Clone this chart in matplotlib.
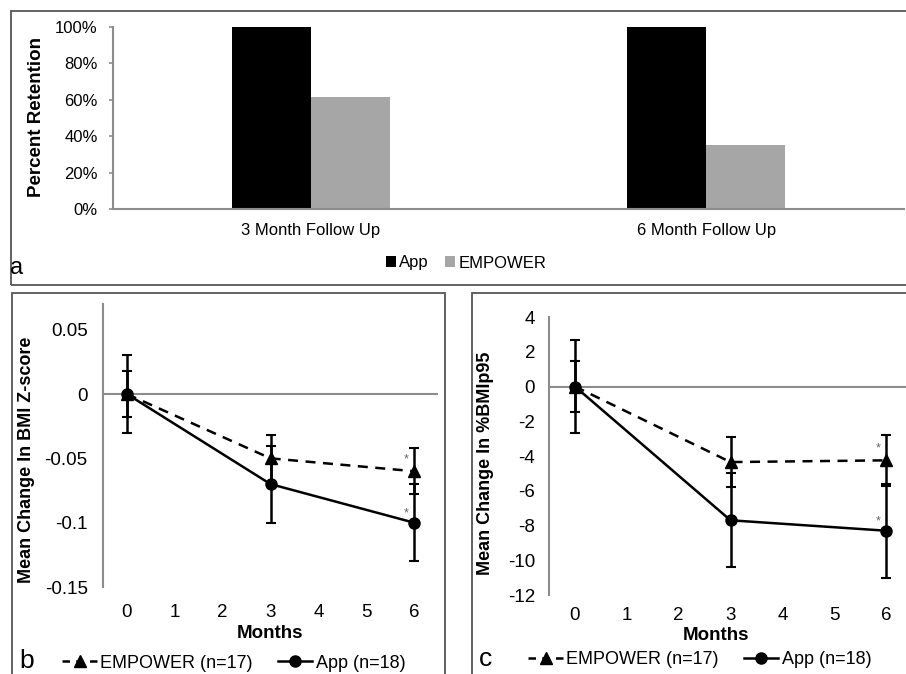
import matplotlib
matplotlib.use('Agg')
import matplotlib.pyplot as plt
from matplotlib.patches import Rectangle
from matplotlib.lines import Line2D
from matplotlib.ticker import PercentFormatter, FuncFormatter

plt.rcParams['font.family'] = ['Liberation Sans', 'DejaVu Sans']
plt.rcParams['axes.unicode_minus'] = False

W, H = 906, 674

# panel a: retention
follow_ups = ['3 Month Follow Up', '6 Month Follow Up']
retention_app = [1.00, 1.00]
retention_empower = [0.615, 0.353]

# panels b and c
months = [0, 3, 6]
bmiz_empower = [0, -0.05, -0.06]
bmiz_empower_err = [0.018, 0.018, 0.018]
bmiz_app = [0, -0.07, -0.10]
bmiz_app_err = [0.03, 0.03, 0.03]

bmip95_empower = [0, -4.35, -4.25]
bmip95_empower_err = [1.45, 1.45, 1.48]
bmip95_app = [0, -7.7, -8.3]
bmip95_app_err = [2.7, 2.7, 2.7]

GRAY_AX = '#8c8c8c'
BORDER = '#555555'


def px_axes(fig, x0, y0, x1, y1):
    """axes from pixel box (top-left origin)"""
    return fig.add_axes([x0 / W, 1 - y1 / H, (x1 - x0) / W, (y1 - y0) / H])


def px_border(fig, x0, y0, x1, y1):
    fig.add_artist(Rectangle((x0 / W, 1 - y1 / H), (x1 - x0) / W, (y1 - y0) / H,
                             transform=fig.transFigure, fill=False,
                             ec=BORDER, lw=1.3, clip_on=False))


def fig_text(fig, x, y, s, **kw):
    fig.text(x / W, 1 - y / H, s, **kw)


fig = plt.figure(figsize=(W / 100, H / 100), dpi=100)

# ---- panel a ----
px_border(fig, 11, 11, 912, 285)
ax_a = px_axes(fig, 113, 27, 904, 209)
pos = range(len(follow_ups))
ax_a.bar([p - 0.1 for p in pos], retention_app, width=0.2, color='black', label='App')
ax_a.bar([p + 0.1 for p in pos], retention_empower, width=0.2, color='#a6a6a6', label='EMPOWER')
ax_a.set_xlim(-0.5, 1.5)
ax_a.set_ylim(0, 1)
ax_a.set_yticks([0, 0.2, 0.4, 0.6, 0.8, 1.0])
ax_a.yaxis.set_major_formatter(PercentFormatter(1.0, decimals=0))
ax_a.set_xticks(list(pos))
ax_a.set_xticklabels(follow_ups)
ax_a.tick_params(axis='x', length=0, pad=10, labelsize=12)
ax_a.tick_params(axis='y', length=3, width=1.2, color=GRAY_AX, pad=8, labelsize=12)
for s in ['top', 'right']:
    ax_a.spines[s].set_visible(False)
for s in ['left', 'bottom']:
    ax_a.spines[s].set_color(GRAY_AX)
    ax_a.spines[s].set_linewidth(1.5)
fig_text(fig, 37, 117, 'Percent Retention', rotation=90, ha='center', va='center',
         fontsize=13.5, fontweight='bold')
ax_a.legend(loc='center', bbox_to_anchor=(466 / W, 1 - 263 / H), bbox_transform=fig.transFigure,
            ncol=2, frameon=False, fontsize=12, handlelength=0.6, handleheight=0.6,
            handletextpad=0.2, columnspacing=1.0)
fig_text(fig, 17, 268, 'a', ha='center', va='center', fontsize=17)


def line_panel(ax, emp, emp_err, app, app_err, ylim, yticks):
    ax.axhline(0, color=GRAY_AX, lw=1.5, zorder=1)
    ax.errorbar(months, emp, yerr=emp_err, color='black', ls='--', dashes=(4, 3),
                marker='^', ms=8, lw=1.8, elinewidth=1.8, capsize=3.5, capthick=1.5, zorder=3)
    ax.errorbar(months, app, yerr=app_err, color='black', ls='-',
                marker='o', ms=8, lw=1.8, elinewidth=1.8, capsize=3.5, capthick=1.5, zorder=4)
    ax.annotate('*', xy=(months[-1], emp[-1]), xytext=(-8, 12), textcoords='offset pixels',
                ha='center', va='center', fontsize=9, color='#666666')
    ax.annotate('*', xy=(months[-1], app[-1]), xytext=(-8, 9), textcoords='offset pixels',
                ha='center', va='center', fontsize=9, color='#666666')
    ax.set_xlim(-0.5, 6.5)
    ax.set_ylim(*ylim)
    ax.set_xticks(range(7))
    ax.set_yticks(yticks)
    ax.yaxis.set_major_formatter(FuncFormatter(lambda v, p: f'{v:g}'))
    for s in ['top', 'right', 'bottom']:
        ax.spines[s].set_visible(False)
    ax.spines['left'].set_color(GRAY_AX)
    ax.spines['left'].set_linewidth(1.5)


legend_handles = [
    Line2D([], [], color='black', ls='--', dashes=(3, 2.5), marker='^', ms=8, lw=1.8),
    Line2D([], [], color='black', ls='-', marker='o', ms=8, lw=1.8),
]
legend_labels = ['EMPOWER (n=17)', 'App (n=18)']

# ---- panel b ----
px_border(fig, 12, 293, 445, 690)
ax_b = px_axes(fig, 103, 304, 438, 587)
line_panel(ax_b, bmiz_empower, bmiz_empower_err, bmiz_app, bmiz_app_err,
           (-0.15, 0.07), [-0.15, -0.1, -0.05, 0, 0.05])
ax_b.tick_params(axis='x', length=0, pad=12, labelsize=13.5)
ax_b.tick_params(axis='y', length=0, pad=11, labelsize=13.5)
fig_text(fig, 27, 460, 'Mean Change In BMI Z-score', rotation=90, ha='center', va='center',
         fontsize=13, fontweight='bold')
fig_text(fig, 270, 633, 'Months', ha='center', va='center', fontsize=13.5, fontweight='bold')
ax_b.legend(legend_handles, legend_labels, loc='center', bbox_to_anchor=(234 / W, 1 - 663 / H),
            bbox_transform=fig.transFigure, ncol=2, frameon=False, fontsize=13,
            handlelength=1.9, handletextpad=0.2, columnspacing=1.4)
fig_text(fig, 27, 661, 'b', ha='center', va='center', fontsize=19)

# ---- panel c ----
px_border(fig, 472, 293, 912, 690)
ax_c = px_axes(fig, 549, 317, 912, 595)
line_panel(ax_c, bmip95_empower, bmip95_empower_err, bmip95_app, bmip95_app_err,
           (-12, 4), list(range(-12, 5, 2)))
ax_c.tick_params(axis='x', length=0, pad=9, labelsize=13.5)
ax_c.tick_params(axis='y', length=0, pad=10, labelsize=13.5)
fig_text(fig, 486, 463, 'Mean Change In %BMIp95', rotation=90, ha='center', va='center',
         fontsize=13, fontweight='bold')
fig_text(fig, 716, 636, 'Months', ha='center', va='center', fontsize=13.5, fontweight='bold')
ax_c.legend(legend_handles, legend_labels, loc='center', bbox_to_anchor=(700 / W, 1 - 660 / H),
            bbox_transform=fig.transFigure, ncol=2, frameon=False, fontsize=13,
            handlelength=1.9, handletextpad=0.2, columnspacing=1.4)
fig_text(fig, 486, 659, 'c', ha='center', va='center', fontsize=19)

fig.savefig('out.png', dpi=100)
